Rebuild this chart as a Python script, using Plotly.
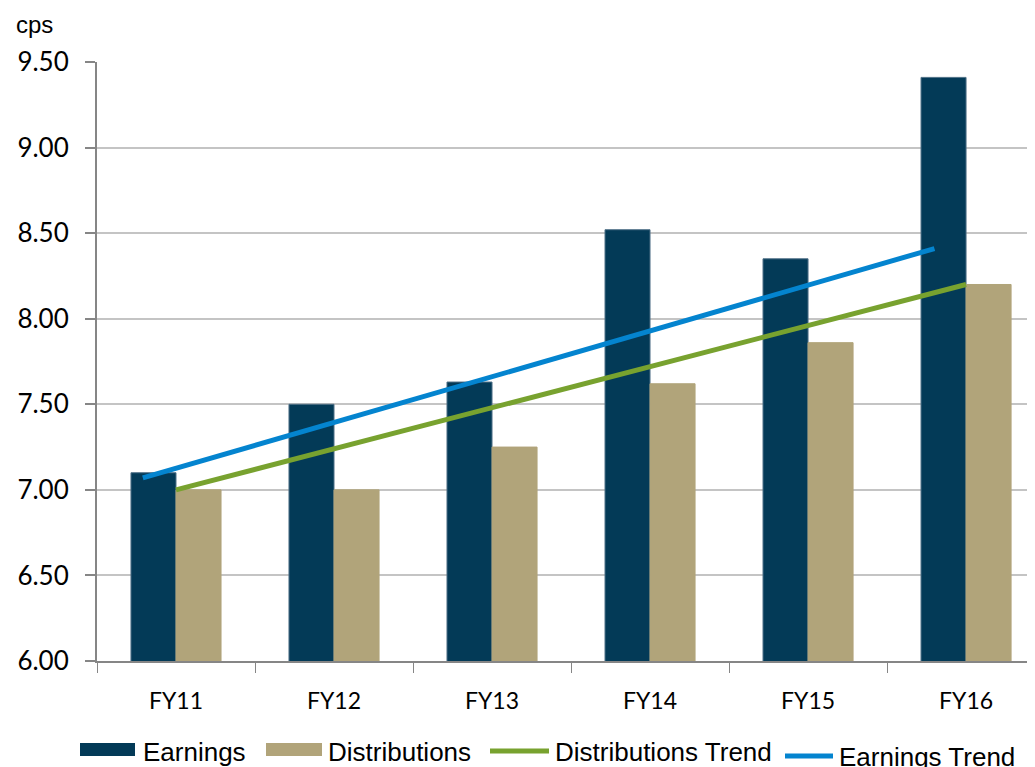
import plotly.graph_objects as go

# ── data ─────────────────────────────────────────────────────────────────
years = ["FY11", "FY12", "FY13", "FY14", "FY15", "FY16"]
earnings = [7.10, 7.50, 7.63, 8.52, 8.35, 9.41]
distributions = [7.00, 7.00, 7.25, 7.62, 7.86, 8.20]

# trend lines (start / end points)
earn_trend_x = [-0.21, 4.80]
earn_trend_y = [7.07, 8.41]
dist_trend_x = [0, 5]
dist_trend_y = [7.00, 8.20]

NAVY = "#033A57"
TAN = "#B1A47A"
GREEN = "#78A22F"
BLUE = "#0484CF"
GRID = "#C4C4C4"
AXIS = "#868686"
TICK_FONT = "Lato, Carlito, Calibri, sans-serif"
TEXT_FONT = "Liberation Sans, Arial, sans-serif"

# page positions of the plot area (the page body adds an 8px offset)
PL, PB, PW, PH = 97, 661, 946, 599

xs = list(range(len(years)))

fig = go.Figure()
fig.add_trace(go.Bar(x=xs, y=earnings, name="Earnings",
                     marker=dict(color=NAVY, line=dict(color="#4F7087", width=1))))
fig.add_trace(go.Bar(x=xs, y=distributions, name="Distributions",
                     marker=dict(color=TAN, line=dict(color=TAN, width=1))))
fig.add_trace(go.Scatter(x=dist_trend_x, y=dist_trend_y, mode="lines",
                         name="Distributions Trend", line=dict(color=GREEN, width=5)))
fig.add_trace(go.Scatter(x=earn_trend_x, y=earn_trend_y, mode="lines",
                         name="Earnings Trend", line=dict(color=BLUE, width=5)))

fig.update_layout(
    width=1035, height=767,
    paper_bgcolor="white", plot_bgcolor="white",
    barmode="group", bargap=0.43, bargroupgap=0,
    showlegend=False,
    margin=dict(l=89, r=0, t=54, b=114),
    xaxis=dict(
        range=[-0.5, 5.487], automargin=False,
        tickvals=xs, ticktext=years,
        ticks="", showgrid=False,
        showline=True, linecolor=AXIS, linewidth=2,
        tickfont=dict(family=TICK_FONT, size=23, color="black"),
        ticklabelstandoff=18,
        minor=dict(tickvals=[-0.5, 0.5, 1.5, 2.5, 3.5, 4.5], ticks="outside",
                   ticklen=10, tickcolor=AXIS, tickwidth=1, showgrid=False),
        zeroline=False,
    ),
    yaxis=dict(
        range=[6, 9.5], dtick=0.5, tick0=6, tickformat=".2f", automargin=False,
        showgrid=True, gridcolor=GRID, gridwidth=2,
        showline=True, linecolor=AXIS, linewidth=2,
        ticks="outside", ticklen=10, tickcolor=AXIS, tickwidth=2,
        tickfont=dict(family=TICK_FONT, size=26, color="black"),
        ticklabelstandoff=11,
        zeroline=False,
    ),
    font=dict(family=TEXT_FONT, color="black"),
)

fig.add_annotation(text="cps", xref="paper", yref="paper",
                   x=(14 - PL) / PW, y=(PB - 24) / PH,
                   xanchor="left", yanchor="middle", showarrow=False,
                   font=dict(family=TEXT_FONT, size=24, color="black"))

# ── hand-drawn legend, as in the original ────────────────────────────────
legend_items = [
    ("Earnings", NAVY, "rect", 80, 135, 141, 752),
    ("Distributions", TAN, "rect", 266, 322, 326, 752),
    ("Distributions Trend", GREEN, "line", 490, 549, 553, 752),
    ("Earnings Trend", BLUE, "line", 785, 833, 837, 757),
]
for label, color, kind, x0, x1, tx, ty in legend_items:
    if kind == "rect":
        fig.add_shape(type="rect", xref="paper", yref="paper",
                      x0=(x0 - PL) / PW, x1=(x1 - PL) / PW,
                      y0=(PB - 756) / PH, y1=(PB - 743) / PH,
                      fillcolor=color, line=dict(width=0))
    else:
        fig.add_shape(type="line", xref="paper", yref="paper",
                      x0=(x0 - PL) / PW, x1=(x1 - PL) / PW,
                      y0=(PB - ty + 1) / PH, y1=(PB - ty + 1) / PH,
                      line=dict(color=color, width=5))
    fig.add_annotation(text=label, xref="paper", yref="paper",
                       x=(tx - PL) / PW, y=(PB - ty) / PH,
                       xanchor="left", yanchor="middle", showarrow=False,
                       font=dict(family=TEXT_FONT, size=26, color="black"))

fig.write_html("out.html")
